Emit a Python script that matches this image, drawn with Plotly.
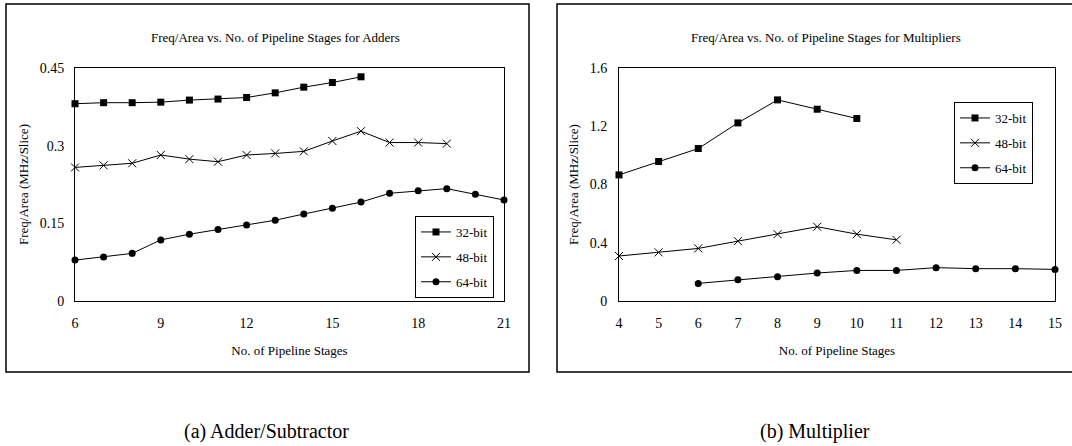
import plotly.graph_objects as go

# ---------------- data ----------------
adder_stages_32 = [6, 7, 8, 9, 10, 11, 12, 13, 14, 15, 16]
adder_32 = [0.381, 0.383, 0.383, 0.384, 0.388, 0.390, 0.393, 0.402, 0.413, 0.422, 0.433]
adder_stages_48 = [6, 7, 8, 9, 10, 11, 12, 13, 14, 15, 16, 17, 18, 19]
adder_48 = [0.258, 0.262, 0.266, 0.282, 0.274, 0.269, 0.282, 0.285, 0.289, 0.309, 0.328, 0.306, 0.306, 0.304]
adder_stages_64 = [6, 7, 8, 9, 10, 11, 12, 13, 14, 15, 16, 17, 18, 19, 20, 21]
adder_64 = [0.079, 0.085, 0.092, 0.118, 0.129, 0.138, 0.147, 0.156, 0.168, 0.179, 0.191, 0.208, 0.213, 0.217, 0.206, 0.195]

mult_stages_32 = [4, 5, 6, 7, 8, 9, 10]
mult_32 = [0.866, 0.958, 1.047, 1.223, 1.381, 1.317, 1.253]
mult_stages_48 = [4, 5, 6, 7, 8, 9, 10, 11]
mult_48 = [0.309, 0.334, 0.361, 0.411, 0.459, 0.510, 0.459, 0.420]
mult_stages_64 = [6, 7, 8, 9, 10, 11, 12, 13, 14, 15]
mult_64 = [0.121, 0.146, 0.167, 0.192, 0.210, 0.210, 0.229, 0.222, 0.222, 0.217]

series_names = ["32-bit", "48-bit", "64-bit"]
adder_xticks = [6, 9, 12, 15, 18, 21]
adder_yticks = [0, 0.15, 0.3, 0.45]
adder_yticktext = ["0", "0.15", "0.3", "0.45"]
mult_xticks = [4, 5, 6, 7, 8, 9, 10, 11, 12, 13, 14, 15]
mult_yticks = [0, 0.4, 0.8, 1.2, 1.6]
mult_yticktext = ["0", "0.4", "0.8", "1.2", "1.6"]

title_a = "Freq/Area vs. No. of Pipeline Stages for Adders"
title_b = "Freq/Area vs. No. of Pipeline Stages for Multipliers"
xlabel = "No. of Pipeline Stages"
ylabel = "Freq/Area (MHz/Slice)"
caption_a = "(a) Adder/Subtractor"
caption_b = "(b) Multiplier"

# ---------------- figure ----------------
W, H = 1072, 446
FONT = "Liberation Serif"

def px(x):
    return x / W

def py(y):
    return 1 - y / H

markers = [
    dict(symbol="square", size=7, color="black"),
    dict(symbol="x-thin", size=8, color="black", line=dict(width=1, color="black")),
    dict(symbol="circle", size=7, color="black"),
]

fig = go.Figure()

adder_data = [(adder_stages_32, adder_32), (adder_stages_48, adder_48), (adder_stages_64, adder_64)]
mult_data = [(mult_stages_32, mult_32), (mult_stages_48, mult_48), (mult_stages_64, mult_64)]

for i, (xs, ys) in enumerate(adder_data):
    fig.add_trace(go.Scatter(
        x=xs, y=ys, mode="lines+markers", name=series_names[i],
        line=dict(color="black", width=1), marker=markers[i],
        xaxis="x", yaxis="y", legend="legend", legendgroup="a%d" % i,
        cliponaxis=False,
    ))
for i, (xs, ys) in enumerate(mult_data):
    fig.add_trace(go.Scatter(
        x=xs, y=ys, mode="lines+markers", name=series_names[i],
        line=dict(color="black", width=1), marker=markers[i],
        xaxis="x2", yaxis="y2", legend="legend2", legendgroup="b%d" % i,
        cliponaxis=False,
    ))

ydom = [py(301), py(68)]
axis_common = dict(
    showline=True, linecolor="black", linewidth=1, mirror=True,
    showgrid=False, zeroline=False, automargin=False,
    tickfont=dict(family=FONT, size=14, color="black"),
)

legend_common = dict(
    bgcolor="white", bordercolor="black", borderwidth=1,
    font=dict(family=FONT, size=13, color="black"),
    traceorder="grouped", tracegroupgap=5, itemwidth=30,
)

fig.update_layout(
    template="none",
    width=W, height=H,
    margin=dict(l=0, r=0, t=0, b=0, autoexpand=False),
    paper_bgcolor="white", plot_bgcolor="white",
    font=dict(family=FONT, size=13, color="black"),
    xaxis=dict(
        axis_common, domain=[px(75), px(504)], range=[6, 21],
        tickvals=adder_xticks, ticks="outside", ticklen=9, tickcolor="rgba(0,0,0,0)",
        title=dict(text=xlabel, font=dict(family=FONT, size=13), standoff=16),
        anchor="y",
    ),
    yaxis=dict(
        axis_common, domain=ydom, range=[0, 0.45],
        tickvals=adder_yticks, ticktext=adder_yticktext,
        ticks="outside", ticklen=7, tickcolor="rgba(0,0,0,0)",
        title=dict(text=ylabel, font=dict(family=FONT, size=13), standoff=8),
        anchor="x",
    ),
    xaxis2=dict(
        axis_common, domain=[px(619), px(1055)], range=[4, 15],
        tickvals=mult_xticks, ticks="outside", ticklen=9, tickcolor="rgba(0,0,0,0)",
        title=dict(text=xlabel, font=dict(family=FONT, size=13), standoff=16),
        anchor="y2",
    ),
    yaxis2=dict(
        axis_common, domain=ydom, range=[0, 1.6],
        tickvals=mult_yticks, ticktext=mult_yticktext,
        ticks="outside", ticklen=8, tickcolor="rgba(0,0,0,0)",
        title=dict(text=ylabel, font=dict(family=FONT, size=13), standoff=8),
        anchor="x2",
    ),
    legend=dict(legend_common, x=px(494), xanchor="right", y=py(298), yanchor="bottom"),
    legend2=dict(legend_common, x=px(1033), xanchor="right", y=py(102), yanchor="top"),
    showlegend=True,
)

# outer frames around each chart
fig.add_shape(type="rect", xref="paper", yref="paper",
              x0=px(6), x1=px(529), y0=py(372), y1=py(4),
              line=dict(color="black", width=1.5), layer="below")
fig.add_shape(type="rect", xref="paper", yref="paper",
              x0=px(557), x1=px(1085), y0=py(372), y1=py(4),
              line=dict(color="black", width=1.5), layer="below")

# chart titles
fig.add_annotation(text=title_a, xref="paper", yref="paper", x=px(275), y=py(37),
                   xanchor="center", yanchor="middle",
                   showarrow=False, font=dict(family=FONT, size=13, color="black"))
fig.add_annotation(text=title_b, xref="paper", yref="paper", x=px(826), y=py(37),
                   xanchor="center", yanchor="middle",
                   showarrow=False, font=dict(family=FONT, size=13, color="black"))

# captions
fig.add_annotation(text=caption_a, xref="paper", yref="paper", x=px(266), y=py(431),
                   xanchor="center", yanchor="middle",
                   showarrow=False, font=dict(family=FONT, size=20, color="black"))
fig.add_annotation(text=caption_b, xref="paper", yref="paper", x=px(815), y=py(431),
                   xanchor="center", yanchor="middle",
                   showarrow=False, font=dict(family=FONT, size=20, color="black"))

fig.write_html("out.html", config={"displayModeBar": False},
               post_script="document.body.style.margin='0';")
